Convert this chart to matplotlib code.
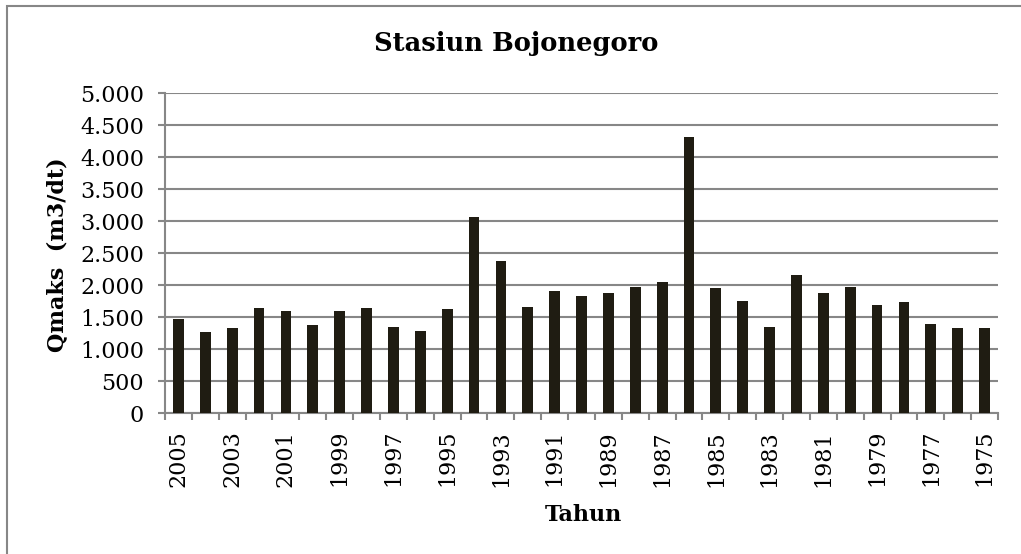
import matplotlib.pyplot as plt
from matplotlib.patches import Rectangle

# Debit maksimum tahunan Stasiun Bojonegoro
tahun = list(range(2005, 1974, -1))
qmaks = [1473, 1275, 1328, 1640, 1594, 1385, 1604, 1646, 1349, 1281,
         1625, 3063, 2375, 1656, 1916, 1833, 1885, 1979, 2047, 4323,
         1953, 1760, 1349, 2161, 1875, 1979, 1692, 1734, 1390, 1328, 1328]
y_ticks = list(range(0, 5001, 500))

bar_color = "#1f1c12"
grid_color = "#878787"
font = "DejaVu Serif"

fig = plt.figure(figsize=(10.21, 5.54), dpi=100)
ax = fig.add_axes([0.1616, 0.254, 0.9775 - 0.1616, 0.8316 - 0.254])

x = list(range(len(tahun)))
ax.bar(x, qmaks, width=0.4, color=bar_color, zorder=3)

ax.set_xlim(-0.5, len(tahun) - 0.5)
ax.set_ylim(0, 5000)

# sumbu y dengan pemisah ribuan titik
ax.set_yticks(y_ticks)
ax.set_yticklabels([f"{v:,}".replace(",", ".") for v in y_ticks],
                   fontsize=16, fontfamily=font)
ax.yaxis.grid(True, color=grid_color, linewidth=1.5, zorder=0)
ax.tick_params(axis="y", length=5, width=1.5, color=grid_color, pad=10)

# label tahun tiap dua tahun, tick di batas kategori
ax.set_xticks(x[::2])
ax.set_xticklabels([str(t) for t in tahun[::2]], rotation=90,
                   fontsize=16, fontfamily=font)
ax.set_xticks([i - 0.5 for i in range(len(tahun) + 1)], minor=True)
ax.tick_params(axis="x", which="major", length=0, pad=12)
ax.tick_params(axis="x", which="minor", length=5, width=1.5, color=grid_color)

for side in ["top", "right"]:
    ax.spines[side].set_visible(False)
for side in ["left", "bottom"]:
    ax.spines[side].set_color(grid_color)
    ax.spines[side].set_linewidth(1.5)

fig.text(0.506, 0.921, "Stasiun Bojonegoro", ha="center", va="center",
         fontsize=18.5, fontweight="bold", fontfamily=font)
fig.text(0.056, 0.54, "Qmaks  (m3/dt)", ha="center", va="center",
         rotation=90, fontsize=16, fontweight="bold", fontfamily=font)
fig.text(0.571, 0.071, "Tahun", ha="center", va="center",
         fontsize=16, fontweight="bold", fontfamily=font)

# bingkai luar grafik
fig.patches.append(Rectangle((7 / 1021, -0.05), 1.1, 1 - 6 / 554 + 0.05,
                             transform=fig.transFigure, fill=False,
                             edgecolor=grid_color, linewidth=1.5))

fig.savefig("out.png", dpi=100)
